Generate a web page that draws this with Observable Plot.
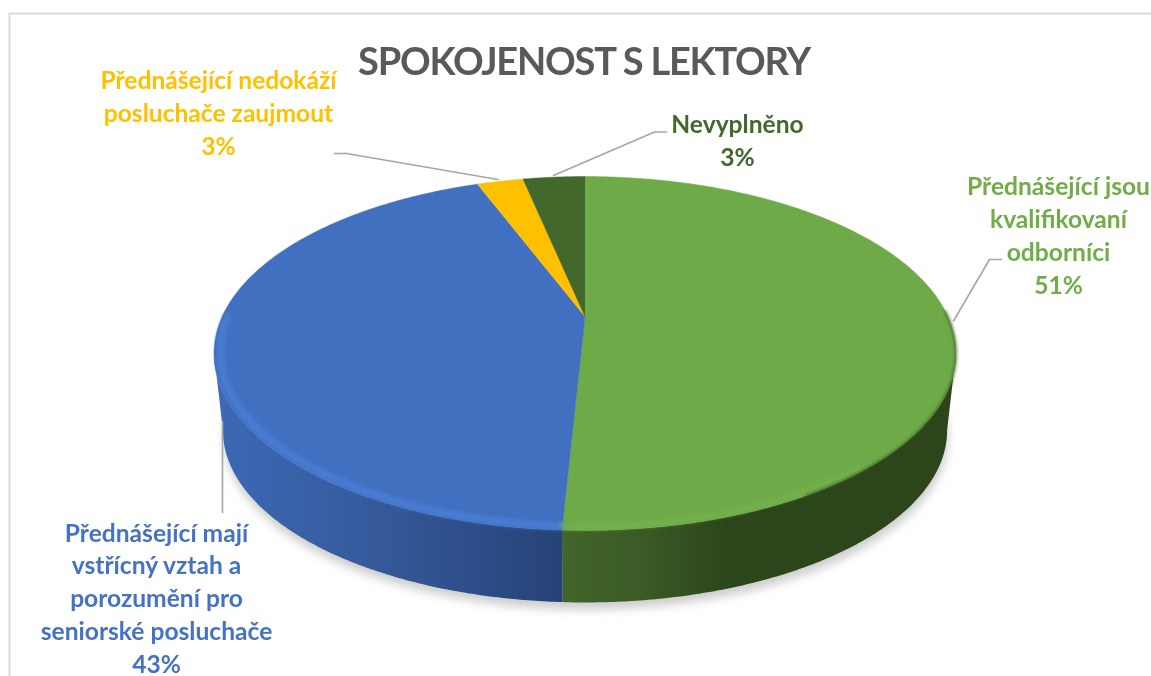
<!DOCTYPE html>
<html lang="cs">
<head>
<meta charset="utf-8">
<title>Spokojenost s lektory</title>
<script src="https://cdn.jsdelivr.net/npm/d3@7"></script>
<script src="https://cdn.jsdelivr.net/npm/@observablehq/plot@0.6"></script>
<style>
  html, body { margin: 0; padding: 0; background: #fff; overflow: hidden; }
</style>
</head>
<body>
<div id="chart"></div>
<script>
// ---- data ----
const categories = [
  "Přednášející jsou kvalifikovaní odborníci",
  "Přednášející mají vstřícný vztah a porozumění pro seniorské posluchače",
  "Přednášející nedokáží posluchače zaujmout",
  "Nevyplněno"
];
const shares = [50.8, 43.44, 2.46, 3.3];     // slice sizes
const percentLabels = ["51%", "43%", "3%", "3%"];
const labelLines = [
  "Přednášející jsou\nkvalifikovaní\nodborníci",
  "Přednášející mají\nvstřícný vztah a\nporozumění pro\nseniorské posluchače",
  "Přednášející nedokáží\nposluchače zaujmout",
  "Nevyplněno"
];
const chartTitle = "SPOKOJENOST S LEKTORY";

// ---- styles ----
const sliceColors = ["#6eab48", "#4170c0", "#ffc000", "#43682b"];
const labelColors = ["#70ad47", "#4472c4", "#ffc000", "#43682b"];

// ---- layout of the tilted disc (picture units) ----
const apex = {x: 584.5, y: 316};
const persp = 0.209, radiusX = 362.8, radiusY = 169.2;
const ellipseMid = {x: 585, y: 353};
const baseMid = {x: 585, y: 430}, baseScaleX = 0.976, baseScaleY = 0.972;
const rad = Math.PI / 180;

function topPoint(theta, s = 1) {
  const u = Math.sin(theta) * s, v = -Math.cos(theta) * s, d = 1 - persp * v;
  return {x: apex.x + radiusX * u / d, y: apex.y + radiusY * v / d};
}
function basePoint(theta) {
  const p = topPoint(theta);
  return {x: baseMid.x + (p.x - ellipseMid.x) * baseScaleX,
          y: baseMid.y + (p.y - ellipseMid.y) * baseScaleY};
}
function sweep(a0, a1, f) {
  const n = Math.max(2, Math.ceil(Math.abs(a1 - a0) / (0.5 * rad)));
  return d3.range(n + 1).map(i => f(a0 + (a1 - a0) * i / n));
}

const arcs = d3.pie().sort(null).startAngle(0).endAngle(2 * Math.PI)(shares);
const sliceShapes = arcs.map(a => [apex, ...sweep(a.startAngle, a.endAngle, t => topPoint(t))]);
const split = arcs[0].endAngle;
const rightSide = 102 * rad, leftSide = 258 * rad;
const wall = (a0, a1) => [...sweep(a0, a1, t => topPoint(t)), ...sweep(a1, a0, basePoint)];
const greenWall = wall(rightSide, split);
const blueWall = wall(split, leftSide);
const shadowShape = sweep(0, 2 * Math.PI, t => {
  const p = basePoint(t);
  return {x: p.x + 1, y: p.y + 7};
});
const blueBevel = sweep(split, 270 * rad, t => topPoint(t, 0.984));
const greenBevel = sweep(140 * rad, split, t => topPoint(t, 0.985));
const rimArc = sweep(88 * rad, 150 * rad, t => topPoint(t, 1));

// ---- annotation layout ----
const leaders = [
  [{x: 1001, y: 259}, {x: 989, y: 259}, {x: 953, y: 320.5}],
  [{x: 222, y: 512}, {x: 222, y: 421}],
  [{x: 334, y: 153}, {x: 346, y: 153}, {x: 497.5, y: 179}],
  [{x: 666, y: 131.5}, {x: 654, y: 131.5}, {x: 553, y: 175}]
];
const labelPos = [
  {x: 1058, y: 293}, {x: 156, y: 672}, {x: 218, y: 154}, {x: 737, y: 165}
];
const frameLine = [{x: 9, y: 676}, {x: 9, y: 13}, {x: 1151, y: 13}];
const labelSize = 24.6, labelLeading = 32.7;

const labelRows = categories.map((c, i) => ({
  text: labelLines[i] + "\n" + percentLabels[i],
  x: labelPos[i].x, y: labelPos[i].y, color: labelColors[i]
}));

const gradientDefs = () => {
  const defs = d3.create("svg:defs");
  const add = (id, x1, x2, stops) => {
    const g = defs.append("linearGradient").attr("id", id)
      .attr("gradientUnits", "userSpaceOnUse")
      .attr("x1", x1).attr("x2", x2).attr("y1", 0).attr("y2", 0);
    stops.forEach(([o, c]) => g.append("stop").attr("offset", o).attr("stop-color", c));
  };
  add("wallBlue", 222, 562, [[0, "#3c68b4"], [0.45, "#35599b"], [1, "#264377"]]);
  add("wallGreen", 561, 960, [[0, "#42662b"], [0.2, "#3a5a26"], [0.42, "#2c461b"], [1, "#2c451a"]]);
  return defs.node();
};

// render hook that puts a CSS style on a mark's <g>
const styled = css => ({
  render(index, scales, values, dims, context, next) {
    const g = next(index, scales, values, dims, context);
    Object.assign(g.style, css);
    return g;
  }
});
const poly = (pts, color, extra = {}) =>
  Plot.line(pts, {x: "x", y: "y", fill: color, stroke: "none", ...extra});
const stroke = (pts, color, width, extra = {}) =>
  Plot.line(pts, {x: "x", y: "y", stroke: color, strokeWidth: width, ...extra});

const chart = Plot.plot({
  width: 1151,
  height: 676,
  margin: 0,
  x: {domain: [0, 1151], range: [0, 1151], axis: null},
  y: {domain: [0, 676], range: [0, 676], axis: null},
  style: {background: "#fff", overflow: "hidden", filter: "blur(0.3px)"},
  color: {type: "identity"},
  marks: [
    gradientDefs,
    stroke(frameLine, "#d9d9d9", 2),
    poly(shadowShape, "#cdcdcd", styled({filter: "blur(5px)"})),
    poly(greenWall, "url(#wallGreen)"),
    poly(blueWall, "url(#wallBlue)"),
    ...sliceShapes.map((s, i) => poly(s, sliceColors[i], {stroke: sliceColors[i], strokeWidth: 0.5})),
    stroke(blueBevel, "#4a7ed6", 7, {strokeOpacity: 0.9, ...styled({filter: "blur(2.2px)"})}),
    stroke(greenBevel, "#74b24f", 5, styled({filter: "blur(2px)"})),
    stroke(rimArc, "#35561f", 1.6, styled({filter: "blur(1.5px)"})),
    ...leaders.map(l => stroke(l, "#a6a6a6", 1.6)),
    Plot.text(labelRows, {
      x: "x", y: "y", text: "text", fill: d => d.color,
      fontFamily: "Lato", fontWeight: 700, fontSize: labelSize,
      lineHeight: labelLeading / labelSize, lineAnchor: "bottom", textAnchor: "middle"
    }),
    Plot.text([chartTitle], {
      x: () => 583.5, y: () => 74, text: d => d, fill: "#595959",
      fontFamily: "Lato", fontWeight: 700, fontSize: 38,
      lineAnchor: "bottom", textAnchor: "middle",
      ...styled({letterSpacing: "-1.2px"})
    })
  ]
});
document.getElementById("chart").append(chart);
</script>
</body>
</html>
